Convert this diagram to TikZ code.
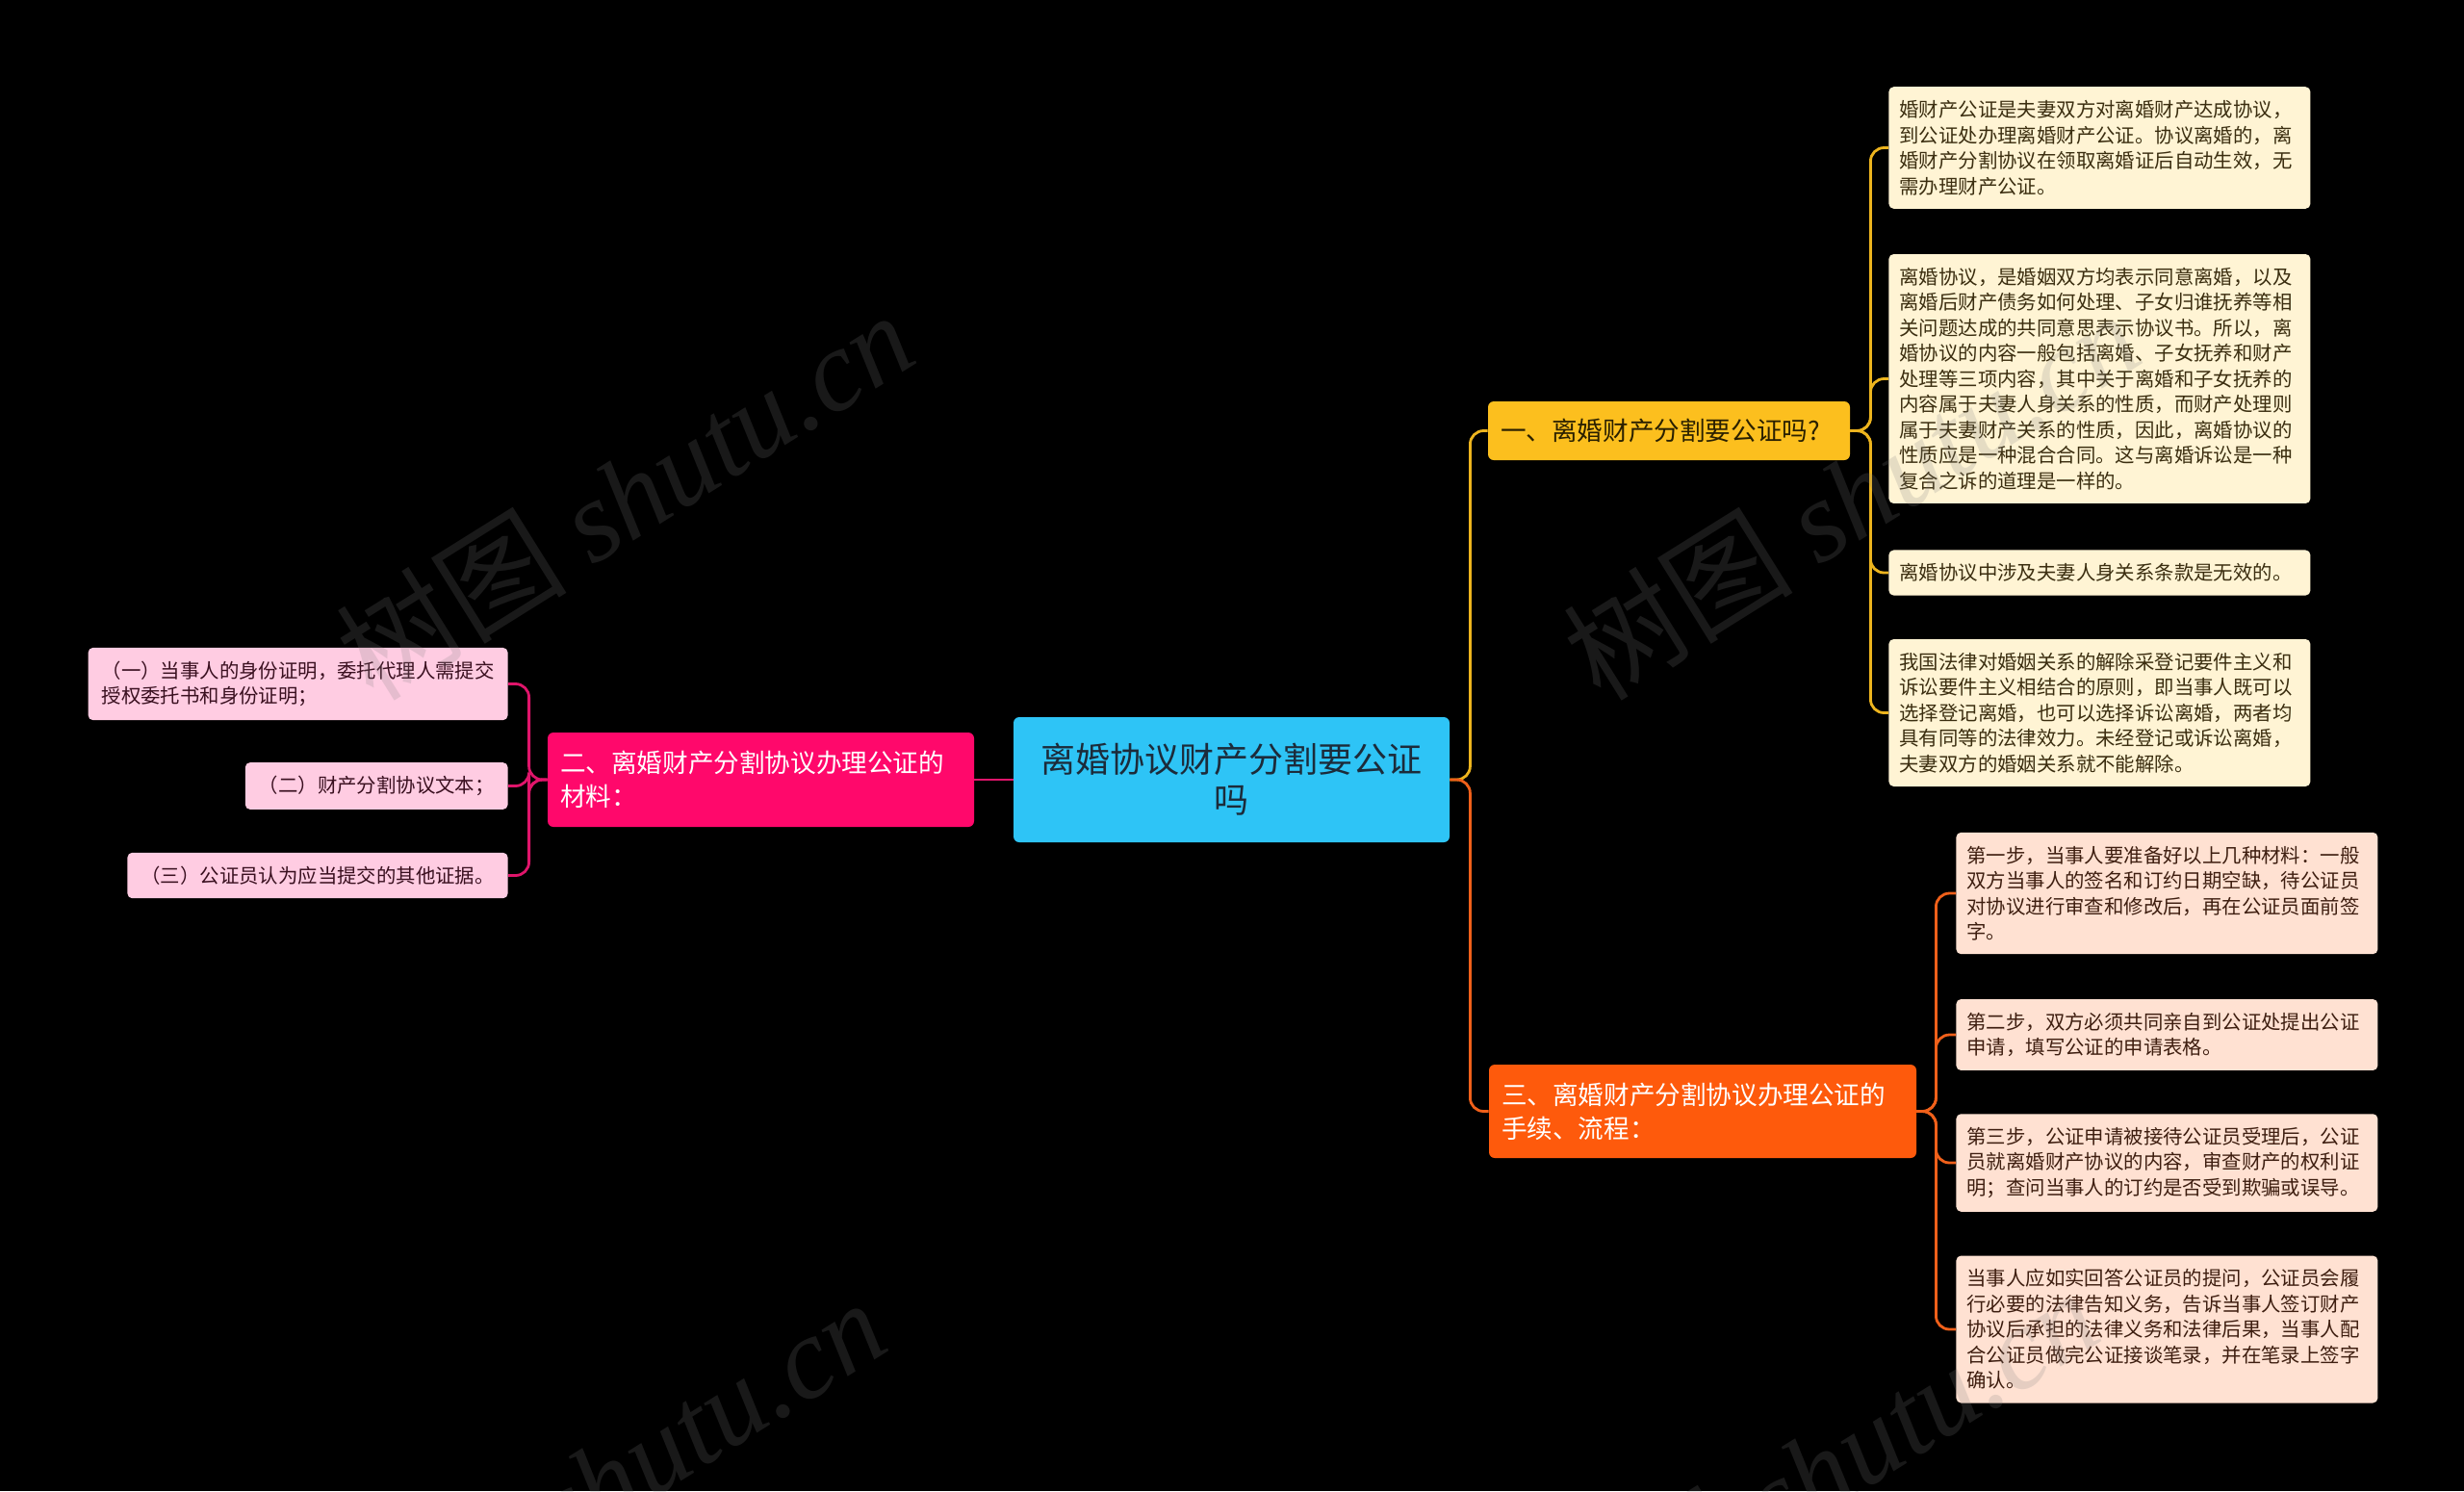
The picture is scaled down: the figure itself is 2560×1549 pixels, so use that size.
\documentclass[tikz,border=0pt]{standalone}
\usepackage{fontspec}
\setmainfont{Noto Sans CJK SC}
\newfontfamily\wmserif{Liberation Serif}
\definecolor{rootblue}{HTML}{2EC4F6}
\definecolor{roottext}{HTML}{1C2B3A}
\definecolor{yelfill}{HTML}{FCBF1E}
\definecolor{yeltext}{HTML}{2A2000}
\definecolor{yelline}{HTML}{EDB41E}
\definecolor{pinkfill}{HTML}{FF086B}
\definecolor{pinkline}{HTML}{E0156B}
\definecolor{orgfill}{HTML}{FE5A0C}
\definecolor{orgline}{HTML}{F0601A}
\definecolor{creamfill}{HTML}{FFF4D4}
\definecolor{creamtext}{HTML}{3B2E10}
\definecolor{rosefill}{HTML}{FFCCE2}
\definecolor{rosetext}{HTML}{3A1020}
\definecolor{peachfill}{HTML}{FFE1D2}
\definecolor{peachtext}{HTML}{3E1E10}
\definecolor{wmgray}{HTML}{808080}
\begin{document}
\begin{tikzpicture}[x=0.5pt,y=-0.5pt]
    \tikzset{
        rootbox/.style={fill=rootblue, text=roottext, rounded corners=3pt, minimum width=226.5pt, minimum height=65pt, text width=210pt, align=center, font=\fontsize{18pt}{21pt}\selectfont},
        branch/.style={rounded corners=3pt, inner xsep=6.5pt, align=left, font=\fontsize{13.3pt}{17.5pt}\selectfont},
        bone/.style={branch, fill=yelfill, text=yeltext, text width=175pt, minimum height=30.5pt},
        btwo/.style={branch, fill=pinkfill, text=white, text width=208.5pt, minimum height=49pt},
        bthree/.style={branch, fill=orgfill, text=white, text width=209pt, minimum height=48.5pt},
        leaf/.style={rounded corners=2.5pt, inner xsep=5.5pt, inner ysep=7pt, align=left, font=\fontsize{10.2pt}{13.25pt}\selectfont},
        leafone/.style={leaf, fill=creamfill, text=creamtext, text width=208pt, anchor=west},
        leaftwo/.style={leaf, inner xsep=7pt, fill=rosefill, text=rosetext, anchor=east},
        leafthree/.style={leaf, fill=peachfill, text=peachtext, text width=208pt, anchor=west},
        link/.style={line width=1.4pt, rounded corners=7pt},
        wmark/.style={rotate=32, text=wmgray, text opacity=0.2, font=\fontsize{60pt}{60pt}\selectfont}
    }

    \fill[black] (0,0) rectangle (2560,1549);
    \useasboundingbox (0,0) rectangle (2560,1549);

    \draw node[rootbox] (root) at (1279.5,810) {离婚协议财产分割要公证\\吗};
    \draw node[bone] (b1) at (1734,447.5) {一、离婚财产分割要公证吗?};
    \draw node[btwo] (b2) at (790.5,810) {二、离婚财产分割协议办理公证的\\材料：};
    \draw node[bthree] (b3) at (1769,1154.5) {三、离婚财产分割协议办理公证的\\手续、流程：};

    \draw node[leafone] (l1a) at (1962,153.5) {婚财产公证是夫妻双方对离婚财产达成协议，\\到公证处办理离婚财产公证。协议离婚的，离\\婚财产分割协议在领取离婚证后自动生效，无\\需办理财产公证。};
    \draw node[leafone] (l1b) at (1962,393.5) {离婚协议，是婚姻双方均表示同意离婚，以及\\离婚后财产债务如何处理、子女归谁抚养等相\\关问题达成的共同意思表示协议书。所以，离\\婚协议的内容一般包括离婚、子女抚养和财产\\处理等三项内容，其中关于离婚和子女抚养的\\内容属于夫妻人身关系的性质，而财产处理则\\属于夫妻财产关系的性质，因此，离婚协议的\\性质应是一种混合合同。这与离婚诉讼是一种\\复合之诉的道理是一样的。};
    \draw node[leafone] (l1c) at (1962,595) {离婚协议中涉及夫妻人身关系条款是无效的。};
    \draw node[leafone] (l1d) at (1962,740.5) {我国法律对婚姻关系的解除采登记要件主义和\\诉讼要件主义相结合的原则，即当事人既可以\\选择登记离婚，也可以选择诉讼离婚，两者均\\具有同等的法律效力。未经登记或诉讼离婚，\\夫妻双方的婚姻关系就不能解除。};

    \draw node[leaftwo] (l2a) at (528,710.5) {（一）当事人的身份证明，委托代理人需提交\\授权委托书和身份证明；};
    \draw node[leaftwo] (l2b) at (528,816.5) {（二）财产分割协议文本；};
    \draw node[leaftwo] (l2c) at (528,909.5) {（三）公证员认为应当提交的其他证据。};

    \draw node[leafthree] (l3a) at (2032,928) {第一步，当事人要准备好以上几种材料：一般\\双方当事人的签名和订约日期空缺，待公证员\\对协议进行审查和修改后，再在公证员面前签\\字。};
    \draw node[leafthree] (l3b) at (2032,1075) {第二步，双方必须共同亲自到公证处提出公证\\申请，填写公证的申请表格。};
    \draw node[leafthree] (l3c) at (2032,1208) {第三步，公证申请被接待公证员受理后，公证\\员就离婚财产协议的内容，审查财产的权利证\\明；查问当事人的订约是否受到欺骗或误导。};
    \draw node[leafthree] (l3d) at (2032,1381) {当事人应如实回答公证员的提问，公证员会履\\行必要的法律告知义务，告诉当事人签订财产\\协议后承担的法律义务和法律后果，当事人配\\合公证员做完公证接谈笔录，并在笔录上签字\\确认。};

    \draw[link, yelline] (root.east) -- ++(21,0) |- (b1.west);
    \draw[link, orgline] (root.east) -- ++(21,0) |- (b3.west);
    \draw[link, pinkline] (root.west) -- (b2.east);
    \foreach \x in {l1a,l1b,l1c,l1d}{
        \draw[link, yelline] (b1.east) -- ++(21,0) |- (\x.west);
    }
    \foreach \x in {l2a,l2b,l2c}{
        \draw[link, pinkline] (b2.west) -- ++(-19,0) |- (\x.east);
    }
    \foreach \x in {l3a,l3b,l3c,l3d}{
        \draw[link, orgline] (b3.east) -- ++(20,0) |- (\x.west);
    }

    \foreach \wx/\wy in {649/514, 1923/514, 620/1540, 1880/1530}{
        \draw node[wmark] (wm\wx) at (\wx,\wy) {树图 {\wmserif\itshape shutu.cn}};
    }
\end{tikzpicture}
\end{document}
